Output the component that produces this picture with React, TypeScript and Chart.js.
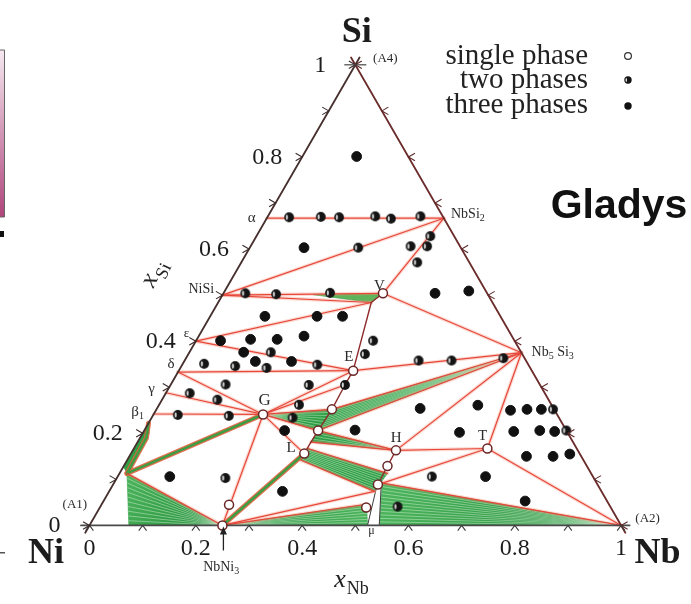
import React, { useEffect, useRef } from 'react';
import { Chart, registerables } from 'chart.js';

Chart.register(...registerables);

type TP = [number, number]; // [x_Nb, x_Si]
const SQ = Math.sqrt(3) / 2;

// ---------- composition anchors (x_Nb, x_Si) ----------
const NB: TP = [1, 0];
const NBSI2: TP = [0.333, 0.667];
const NB5SI3: TP = [0.625, 0.375];
const NBNI3: TP = [0.25, 0];
const ALPHA: TP = [0, 0.667];
const NISI: TP = [0, 0.5];
const EPS: TP = [0, 0.4];
const DELTA: TP = [0, 0.333];
const GAMMA: TP = [0, 0.288];
const BETA1: TP = [0, 0.242];
const P0: TP = [0.014, 0.113];
const B0: TP = [0.074, 0];
const V: TP = [0.3, 0.504];
const VB: TP = [0.288, 0.484];
const E: TP = [0.328, 0.336];
const EL1: TP = [0.328, 0.305];
const EL2: TP = [0.33, 0.252];
const EL3: TP = [0.327, 0.206];
const EL4: TP = [0.326, 0.181];
const L: TP = [0.326, 0.156];
const L1: TP = [0.327, 0.167];
const L2: TP = [0.326, 0.142];
const G: TP = [0.206, 0.241];
const H: TP = [0.495, 0.163];
const HM1: TP = [0.496, 0.129];
const MT: TP = [0.498, 0.089];
const MR: TP = [0.505, 0.092];
const M1: TP = [0.504, 0.113];
const M2: TP = [0.499, 0.074];
const MB: TP = [0.498, 0.046];
const MUBL: TP = [0.523, 0];
const MUBR: TP = [0.545, 0];
const T: TP = [0.665, 0.167];

// ---------- triangle edges ----------
const leftEdge: TP[] = [[0, -0.016], [0, 1.016]];
const rightEdge: TP[] = [[1.016, -0.016], [-0.016, 1.016]];
const baseEdge: TP[] = [[-0.016, 0], [1.016, 0]];

// ---------- tie lines ----------
const tieLines: TP[][] = [
  [ALPHA, NBSI2], [NISI, NBSI2], [NISI, V], [NISI, VB], [V, NBSI2], [V, NB5SI3],
  [EPS, VB], [EPS, E], [DELTA, E], [E, NB5SI3], [DELTA, G], [GAMMA, G], [BETA1, G],
  [G, E], [G, EL1], [G, EL2], [G, EL3], [G, L], [G, NBNI3], [P0, NBNI3],
  [EL2, NB5SI3], [EL3, NB5SI3], [EL3, H], [EL4, H], [L1, M1], [L2, M2],
  [NBNI3, M2], [NBNI3, MB], [H, T], [H, NB5SI3], [T, NB5SI3], [T, NB], [T, MR], [MR, NB],
];
const narrowBands: TP[][] = [[P0, G], [NBNI3, L], [[0, 0.222], [0.012, 0.19], P0]];
const phaseBoundaries: TP[][] = [[V, VB, E, EL1, EL2, EL3, EL4, L], [H, HM1, MT]];

// ---------- two-phase (green) regions ----------
const leftStrip: TP[] = [[0, 0.222], [0.012, 0.2], P0, [0, 0.128]];
const fanLeft: TP[] = [P0, B0, NBNI3];
const band1: TP[] = [G, EL2, EL3];
const band2: TP[] = [EL2, NB5SI3, EL3];
const band3: TP[] = [EL3, H, EL4];
const band4: TP[] = [L1, M1, M2, L2];
const bottomMid: TP[] = [NBNI3, MB, MUBL];
const bottomRight: TP[] = [MR, NB, MUBR];
const nisiSliver: TP[] = [[0.17, 0.501], V, VB];
const muRegion: TP[] = [[0.497, 0.088], [0.507, 0.083], MUBR, MUBL];

// ---------- measured samples ----------
const singlePhase: TP[] = [
  V, E, G, L, H, T, EL2, EL3, HM1, MT, [0.501, 0.039], [0.24, 0.045], NBNI3,
];
const twoPhases: TP[] = [
  [0.041, 0.669], [0.1, 0.67], [0.135, 0.669], [0.202, 0.671], [0.234, 0.666], [0.287, 0.671],
  [0.204, 0.603], [0.327, 0.628], [0.301, 0.606], [0.332, 0.606], [0.331, 0.571],
  [0.041, 0.504], [0.1, 0.502], [0.2, 0.505], [0.333, 0.401], [0.332, 0.372],
  [0.153, 0.376], [0.162, 0.342], [0.254, 0.349], [0.04, 0.351], [0.101, 0.346],
  [0.44, 0.358], [0.502, 0.358], [0.597, 0.363],
  [0.103, 0.306], [0.045, 0.287], [0.104, 0.273], [0.046, 0.24], [0.143, 0.238],
  [0.263, 0.262], [0.26, 0.305], [0.328, 0.305], [0.265, 0.234],
  [0.204, 0.103], [0.591, 0.106], [0.559, 0.041], [0.746, 0.252], [0.794, 0.206],
];
const threePhases: TP[] = [
  [0.102, 0.801], [0.102, 0.603], [0.398, 0.504], [0.459, 0.509],
  [0.103, 0.454], [0.201, 0.454], [0.249, 0.454],
  [0.046, 0.401], [0.101, 0.404], [0.151, 0.404], [0.198, 0.411],
  [0.102, 0.376], [0.134, 0.356], [0.202, 0.356],
  [0.264, 0.206], [0.396, 0.207], [0.495, 0.254], [0.6, 0.261], [0.595, 0.202],
  [0.667, 0.25], [0.697, 0.252], [0.724, 0.252],
  [0.696, 0.204], [0.744, 0.206], [0.773, 0.204],
  [0.747, 0.15], [0.797, 0.15], [0.826, 0.155],
  [0.692, 0.106], [0.793, 0.053], [0.098, 0.106], [0.326, 0.074],
];

// ---------- ticks & labels ----------
const tickValues = [0, 0.1, 0.2, 0.3, 0.4, 0.5, 0.6, 0.7, 0.8, 0.9, 1];
const tickLabelValues = [0, 0.2, 0.4, 0.6, 0.8, 1];
const tickLabels = ['0', '0.2', '0.4', '0.6', '0.8', '1'];
const legendLabels = ['single phase', 'two phases', 'three phases'];

type Part = [string, number];
const phaseLabels: { parts: Part[]; at: TP; size: number; align?: CanvasTextAlign }[] = [
  { parts: [['α', 0]], at: [-0.03, 0.67], size: 15 },
  { parts: [['NiSi', 0]], at: [-0.023, 0.515], size: 14, align: 'right' },
  { parts: [['ε', 0]], at: [-0.027, 0.419], size: 13 },
  { parts: [['δ', 0]], at: [-0.023, 0.353], size: 15 },
  { parts: [['γ', 0]], at: [-0.0325, 0.298], size: 15 },
  { parts: [['β', 0], ['1', 1]], at: [-0.034, 0.249], size: 15 },
  { parts: [['NbSi', 0], ['2', 1]], at: [0.3415, 0.677], size: 14, align: 'left' },
  { parts: [['Nb', 0], ['5', 1], [' Si', 0], ['3', 1]], at: [0.643, 0.377], size: 14, align: 'left' },
  { parts: [['V', 0]], at: [0.285, 0.521], size: 15 },
  { parts: [['E', 0]], at: [0.304, 0.368], size: 15 },
  { parts: [['G', 0]], at: [0.192, 0.2745], size: 17 },
  { parts: [['L', 0]], at: [0.294, 0.17], size: 15 },
  { parts: [['H', 0]], at: [0.481, 0.1915], size: 15 },
  { parts: [['T', 0]], at: [0.6415, 0.1957], size: 15 },
  { parts: [['μ', 0]], at: [0.536, -0.011], size: 12 },
  { parts: [['NbNi', 0], ['3', 1]], at: [0.2924, -0.0894], size: 14 },
  { parts: [['(A1)', 0]], at: [-0.051, 0.0468], size: 13 },
  { parts: [['(A2)', 0]], at: [1.0414, 0.017], size: 13 },
  { parts: [['(A4)', 0]], at: [0.049, 1.015], size: 13 },
];
const vertexLabels: { text: string; at: TP }[] = [
  { text: 'Si', at: [-0.0345, 1.0745] },
  { text: 'Ni', at: [-0.054, -0.0553] },
  { text: 'Nb', at: [1.096, -0.0553] },
];
const axisTitleNb: TP = [0.5535, -0.1234];
const axisTitleSi: TP = [-0.15, 0.545];

const XMIN = -0.1571, XMAX = 1.1202, YMIN = -0.1364, YMAX = 0.9766;
const toXY = (p: TP) => ({ x: p[0] + p[1] / 2, y: p[1] * SQ });
const SERIF = '"Liberation Serif", "DejaVu Serif", serif';

function makeHalf(r: number) {
  const c = document.createElement('canvas');
  const s = Math.ceil(r * 2 + 2);
  c.width = s; c.height = s;
  const g = c.getContext('2d')!;
  const cx = s / 2, cy = s / 2;
  g.fillStyle = '#141414';
  g.beginPath(); g.arc(cx, cy, r, 0, Math.PI * 2); g.fill();
  g.fillStyle = '#d4d4d4';
  g.beginPath(); g.ellipse(cx - r * 0.45, cy, r * 0.22, r * 0.55, 0, 0, Math.PI * 2); g.fill();
  return c;
}

export default function App() {
  const ref = useRef<HTMLCanvasElement>(null);
  useEffect(() => {
    if (!ref.current) return;
    const half = makeHalf(4.9);
    const halfSmall = makeHalf(3.7);
    const datasets: any[] = [];
    const hatchMap = new Map<number, { a: TP[]; b: TP[]; n: number }>();
    const green = '#2f9f45';

    const line = (pts: TP[], color: string, width: number, order: number) =>
      datasets.push({
        data: pts.map(toXY), borderColor: color, borderWidth: width, pointRadius: 0,
        fill: false, tension: 0, order, borderCapStyle: 'round', borderJoinStyle: 'round',
      });
    const poly = (pts: TP[], color: any, order: number, border: string = green, bw = 0.6) =>
      datasets.push({
        data: [...pts, pts[0]].map(toXY), borderColor: border, borderWidth: bw, backgroundColor: color,
        fill: 'shape', pointRadius: 0, tension: 0, order,
      });
    // gradient fill: darker green towards the tie-line apex
    const shaded = (from: TP, to: TP) => (c: any) => {
      const chart = c.chart;
      const xs = chart.scales?.x, ys = chart.scales?.y;
      if (!xs || !ys) return green;
      const f = toXY(from), t = toXY(to);
      const x0 = xs.getPixelForValue(f.x), y0 = ys.getPixelForValue(f.y);
      const x1 = xs.getPixelForValue(t.x), y1 = ys.getPixelForValue(t.y);
      if (![x0, y0, x1, y1].every((v) => Number.isFinite(v))) return green;
      const g = chart.ctx.createLinearGradient(x0, y0, x1, y1);
      g.addColorStop(0, '#1d8a35');
      g.addColorStop(1, '#4cb45c');
      return g;
    };
    const hatched = (pts: TP[], a: TP[], b: TP[], n: number, fillColor: any = green) => {
      poly(pts, fillColor, 10);
      hatchMap.set(datasets.length - 1, { a, b, n });
    };

    poly(leftStrip, green, 10);
    poly(nisiSliver, '#5fb35a', 10);
    hatched(fanLeft, [NBNI3, NBNI3], [P0, B0], 11, shaded(NBNI3, P0));
    hatched(band1, [G, G], [EL2, EL3], 7);
    hatched(band2, [NB5SI3, NB5SI3], [EL2, EL3], 9);
    hatched(band3, [H, H], [EL3, EL4], 4);
    hatched(band4, [L1, L2], [M1, M2], 9);
    hatched(bottomMid, [NBNI3, NBNI3], [MB, MUBL], 7, shaded(NBNI3, MB));
    hatched(bottomRight, [NB, NB], [MR, MUBR], 12, shaded(NB, MR));
    poly(muRegion, '#ffffff', 9, '#3a3a3a', 1);

    tieLines.forEach((l) => line(l, 'rgba(245,150,125,0.35)', 3.6, 8));
    narrowBands.forEach((l) => line(l, 'rgba(225,95,60,0.9)', 5, 7));
    narrowBands.forEach((l) => line(l, '#3f9c43', 2.6, 6));
    tieLines.forEach((l) => line(l, '#e6473a', 1.2, 5));
    phaseBoundaries.forEach((l) => line(l, '#8e2a2a', 1.4, 4));
    line(leftEdge, '#45302e', 1.8, 3);
    line(rightEdge, '#6b2c2c', 1.8, 3);
    line(baseEdge, '#4a4a4a', 1.8, 3);

    datasets.push({
      data: threePhases.map(toXY), showLine: false, pointRadius: 4.9,
      pointBackgroundColor: '#111', pointBorderColor: '#111', pointBorderWidth: 1, order: 1,
    });
    datasets.push({
      data: twoPhases.map(toXY), showLine: false, pointStyle: half, pointRadius: 4.9, order: 1,
    });
    datasets.push({
      data: singlePhase.map(toXY), showLine: false, pointRadius: 4.5,
      pointBackgroundColor: '#ffffff', pointBorderColor: '#6a2626', pointBorderWidth: 1.5, order: 1,
    });

    const drawParts = (ctx: CanvasRenderingContext2D, parts: Part[], x: number, y: number, size: number,
      align: CanvasTextAlign = 'center', style = '') => {
      const main = `${style}${size}px ${SERIF}`;
      const sub = `${Math.round(size * 0.68)}px ${SERIF}`;
      let w = 0;
      const ws = parts.map(([s, isSub]) => { ctx.font = isSub ? sub : main; const m = ctx.measureText(s).width; w += m; return m; });
      let cx = align === 'center' ? x - w / 2 : align === 'right' ? x - w : x;
      ctx.textAlign = 'left';
      ctx.textBaseline = 'alphabetic';
      const base = y + size * 0.33;
      parts.forEach(([s, isSub], i) => {
        ctx.font = isSub ? sub : main;
        ctx.fillText(s, cx, isSub ? base + size * 0.22 : base);
        cx += ws[i];
      });
    };

    const decor = {
      id: 'ternaryDecor',
      afterDatasetDraw(chart: any, args: any) {
        const spec = hatchMap.get(args.index);
        if (!spec) return;
        const xs = chart.scales.x, ys = chart.scales.y;
        const P = (p: TP) => [xs.getPixelForValue(p[0] + p[1] / 2), ys.getPixelForValue(p[1] * SQ)];
        const ctx: CanvasRenderingContext2D = chart.ctx;
        ctx.save();
        ctx.strokeStyle = 'rgba(225,245,225,0.6)';
        ctx.lineWidth = 0.75;
        const [a1, a2] = spec.a.map(P);
        const [b1, b2] = spec.b.map(P);
        for (let i = 1; i < spec.n; i++) {
          const t = i / spec.n;
          ctx.beginPath();
          ctx.moveTo(a1[0] + (a2[0] - a1[0]) * t, a1[1] + (a2[1] - a1[1]) * t);
          ctx.lineTo(b1[0] + (b2[0] - b1[0]) * t, b1[1] + (b2[1] - b1[1]) * t);
          ctx.stroke();
        }
        ctx.restore();
      },
      afterDatasetsDraw(chart: any) {
        const xs = chart.scales.x, ys = chart.scales.y;
        const P = (p: TP) => ({ x: xs.getPixelForValue(p[0] + p[1] / 2), y: ys.getPixelForValue(p[1] * SQ) });
        const ctx: CanvasRenderingContext2D = chart.ctx;
        ctx.save();
        const chev = (q: { x: number; y: number }, arms: number[][], color: string, len: number) => {
          ctx.strokeStyle = color; ctx.lineWidth = 1.1;
          ctx.beginPath();
          ctx.moveTo(q.x + arms[0][0] * len, q.y + arms[0][1] * len);
          ctx.lineTo(q.x, q.y);
          ctx.lineTo(q.x + arms[1][0] * len, q.y + arms[1][1] * len);
          ctx.stroke();
        };
        tickValues.forEach((v) => {
          chev(P([v, 0]), [[-0.6, 0.8], [0.6, 0.8]], '#3c3c3c', 6.5);
          chev(P([0, v]), [[-0.866, -0.5], [-0.866, 0.5]], '#3a2a2a', 7.5);
          chev(P([1 - v, v]), [[0.866, -0.5], [0.866, 0.5]], '#5e2a2a', 7.5);
        });
        const apex = P([0, 1]);
        ctx.strokeStyle = '#444'; ctx.lineWidth = 1.2;
        ctx.beginPath(); ctx.moveTo(apex.x - 11, apex.y); ctx.lineTo(apex.x + 11, apex.y); ctx.stroke();

        ctx.fillStyle = '#1c1c1c';
        tickLabelValues.forEach((v, i) => {
          const b = P([v, 0]);
          drawParts(ctx, [[tickLabels[i], 0]], b.x, b.y + 22, 24);
          const l = P([0, v]);
          drawParts(ctx, [[tickLabels[i], 0]], l.x - 35, l.y - 1, 24);
        });
        vertexLabels.forEach((vl) => {
          const q = P(vl.at);
          drawParts(ctx, [[vl.text, 0]], q.x, q.y, 36, 'center', 'bold ');
        });
        ctx.fillStyle = '#2a2a2a';
        phaseLabels.forEach((pl) => {
          const q = P(pl.at);
          drawParts(ctx, pl.parts, q.x, q.y, pl.size, pl.align || 'center');
        });
        // NbNi3 arrow
        const nn = P(NBNI3);
        ctx.strokeStyle = '#222'; ctx.lineWidth = 1.3;
        ctx.beginPath(); ctx.moveTo(nn.x + 1, nn.y + 25); ctx.lineTo(nn.x + 1, nn.y + 6); ctx.stroke();
        ctx.beginPath(); ctx.moveTo(nn.x + 1, nn.y + 1); ctx.lineTo(nn.x - 2.5, nn.y + 9); ctx.lineTo(nn.x + 4.5, nn.y + 9); ctx.closePath();
        ctx.fillStyle = '#222'; ctx.fill();

        // axis titles
        ctx.fillStyle = '#222';
        const tn = P(axisTitleNb);
        ctx.font = `italic 26px ${SERIF}`;
        const wx = ctx.measureText('x').width;
        ctx.font = `18px ${SERIF}`;
        const wnb = ctx.measureText('Nb').width;
        let sx = tn.x - (wx + wnb) / 2;
        ctx.textAlign = 'left'; ctx.textBaseline = 'alphabetic';
        ctx.font = `italic 26px ${SERIF}`; ctx.fillText('x', sx, tn.y + 5);
        ctx.font = `18px ${SERIF}`; ctx.fillText('Nb', sx + wx + 1, tn.y + 12);
        const ts = P(axisTitleSi);
        ctx.save();
        ctx.translate(ts.x, ts.y);
        ctx.rotate(-Math.PI * 0.36);
        ctx.font = `italic 26px ${SERIF}`;
        const w2 = ctx.measureText('x').width;
        ctx.font = `18px ${SERIF}`;
        const wsi = ctx.measureText('Si').width;
        sx = -(w2 + wsi) / 2;
        ctx.font = `italic 26px ${SERIF}`; ctx.fillText('x', sx, 5);
        ctx.font = `18px ${SERIF}`; ctx.fillText('Si', sx + w2 + 1, 12);
        ctx.restore();

        // legend
        const lx = 588, tx = 628;
        const rows = [64, 88, 113];
        ctx.fillStyle = '#222';
        ctx.font = `29px ${SERIF}`;
        ctx.textAlign = 'right'; ctx.textBaseline = 'alphabetic';
        legendLabels.forEach((t, i) => ctx.fillText(t, lx, rows[i]));
        ctx.beginPath(); ctx.arc(tx, rows[0] - 8, 3.4, 0, Math.PI * 2);
        ctx.fillStyle = '#fff'; ctx.fill(); ctx.strokeStyle = '#333'; ctx.lineWidth = 1.2; ctx.stroke();
        ctx.drawImage(halfSmall, tx - halfSmall.width / 2, rows[1] - 8 - halfSmall.height / 2);
        ctx.beginPath(); ctx.arc(tx, rows[2] - 7, 3.7, 0, Math.PI * 2);
        ctx.fillStyle = '#111'; ctx.fill();

        // overlay text
        ctx.fillStyle = '#111';
        ctx.font = 'bold 41px "Liberation Sans", Arial, sans-serif';
        ctx.textAlign = 'center';
        ctx.fillText('Gladys', 619, 218);

        // cropped colour bar at the left edge
        const grad = ctx.createLinearGradient(0, 50, 0, 217);
        grad.addColorStop(0, '#f5e8f0');
        grad.addColorStop(1, '#b0457c');
        ctx.fillStyle = grad;
        ctx.fillRect(0, 50, 4, 167);
        ctx.strokeStyle = '#666'; ctx.lineWidth = 1;
        ctx.beginPath(); ctx.moveTo(0, 50); ctx.lineTo(4.5, 50); ctx.lineTo(4.5, 217); ctx.lineTo(0, 217); ctx.stroke();
        ctx.fillStyle = '#111';
        ctx.fillRect(0, 231, 4, 6);
        ctx.fillStyle = '#555';
        ctx.fillRect(0, 552, 5, 1.5);
        ctx.restore();
      },
    };

    const chart = new Chart(ref.current, {
      type: 'line',
      data: { datasets },
      options: {
        animation: false,
        responsive: true,
        maintainAspectRatio: false,
        events: [],
        layout: { padding: 0 },
        plugins: { legend: { display: false }, tooltip: { enabled: false }, title: { display: false } },
        scales: {
          x: { type: 'linear', min: XMIN, max: XMAX, display: false },
          y: { type: 'linear', min: YMIN, max: YMAX, display: false },
        },
      },
      plugins: [decor],
    } as any);
    return () => chart.destroy();
  }, []);

  return (
    <div style={{ position: 'fixed', left: 0, top: 0, width: 691, height: 604, background: '#fff' }}>
      <canvas ref={ref} />
    </div>
  );
}
